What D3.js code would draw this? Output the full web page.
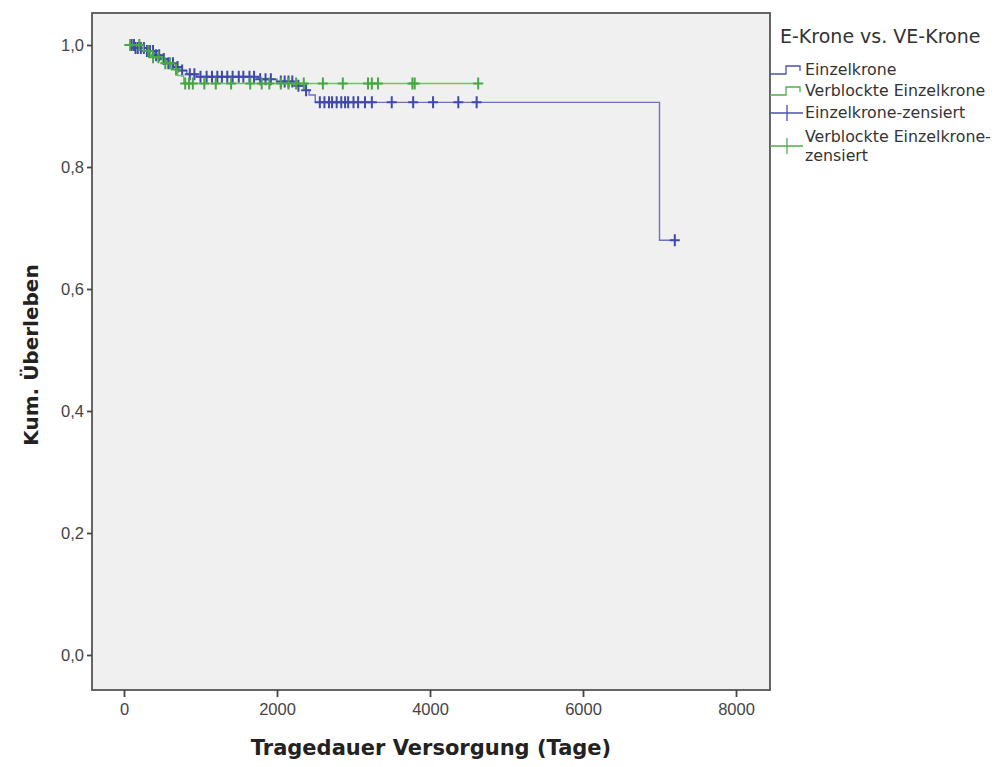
<!DOCTYPE html>
<html>
<head>
<meta charset="utf-8">
<script src="https://cdn.jsdelivr.net/npm/d3@7"></script>
<style>
  body { margin: 0; background: #fff; }
  svg { display: block; }
</style>
</head>
<body>
<div id="chart"></div>
<script>
// Kaplan-Meier steps: [Tage, kum. Ueberleben]
var einzelSteps = [
  [0, 1.0], [150, 0.995], [300, 0.99], [400, 0.983], [480, 0.977], [560, 0.97],
  [650, 0.964], [720, 0.958], [820, 0.952], [950, 0.948], [1750, 0.944],
  [2000, 0.94], [2250, 0.933], [2350, 0.926], [2420, 0.918], [2500, 0.906],
  [7000, 0.68]
];
var einzelEnd = 7200;
var einzelCensored = [
  100, 130, 150, 180, 220, 260, 300, 340, 380, 420, 460, 520, 580, 640, 700, 760,
  860, 920, 1000, 1080, 1150, 1220, 1280, 1350, 1420, 1500, 1560, 1640, 1700,
  1780, 1850, 1920, 2050, 2100, 2150, 2200, 2280, 2380, 2560, 2620, 2680, 2720,
  2780, 2840, 2890, 2930, 3000, 3060, 3150, 3240, 3500, 3780, 4040, 4370, 4610,
  7200
];

var verblocktSteps = [
  [0, 1.0], [250, 0.99], [350, 0.98], [500, 0.97], [620, 0.96], [700, 0.95],
  [780, 0.937]
];
var verblocktEnd = 4630;
var verblocktCensored = [
  80, 200, 320, 380, 450, 540, 600, 680, 800, 850, 900, 1050, 1200, 1400, 1650,
  1800, 1900, 2050, 2150, 2250, 2350, 2600, 2860, 3190, 3240, 3320, 3770, 3800,
  4630
];

var xTicks = [0, 2000, 4000, 6000, 8000];
var yTicks = [0, 0.2, 0.4, 0.6, 0.8, 1.0];

var legendTitle = 'E-Krone vs. VE-Krone';
var legendItems = [
  { lines: ['Einzelkrone'], colour: '#4a52b4', type: 'step' },
  { lines: ['Verblockte Einzelkrone'], colour: '#4fb04a', type: 'step' },
  { lines: ['Einzelkrone-zensiert'], colour: '#4a52b4', type: 'cens' },
  { lines: ['Verblockte Einzelkrone-', 'zensiert'], colour: '#4fb04a', type: 'cens' }
];

var width = 997, height = 767;
var frame = { left: 92, top: 13, right: 770, bottom: 690 };

var svg = d3.select('#chart').append('svg')
  .attr('width', width)
  .attr('height', height);

var x = d3.scaleLinear().domain([0, 8000]).range([124, 736]);
var y = d3.scaleLinear().domain([0, 1]).range([655, 45]);

svg.append('rect')
  .attr('x', frame.left)
  .attr('y', frame.top)
  .attr('width', frame.right - frame.left)
  .attr('height', frame.bottom - frame.top)
  .attr('fill', '#f0f0f0')
  .attr('stroke', '#555')
  .attr('stroke-width', 1.8);

var comma = function(d) { return d3.format('.1f')(d).replace('.', ','); };

var yAxis = svg.append('g')
  .attr('transform', 'translate(' + frame.left + ',0)')
  .call(d3.axisLeft(y).tickValues(yTicks).tickSize(5).tickPadding(3).tickFormat(comma));

var xAxis = svg.append('g')
  .attr('transform', 'translate(0,' + frame.bottom + ')')
  .call(d3.axisBottom(x).tickValues(xTicks).tickSize(7).tickPadding(6).tickFormat(d3.format('d')));

[yAxis, xAxis].forEach(function(ax) {
  ax.select('.domain').remove();
  ax.selectAll('line').attr('stroke', '#444').attr('stroke-width', 1.8);
  ax.selectAll('text')
    .attr('fill', '#444')
    .style('font-family', '"Liberation Sans", Arial, sans-serif')
    .style('font-size', '16.5px');
});

svg.append('text')
  .attr('x', 431)
  .attr('y', 755)
  .attr('text-anchor', 'middle')
  .style('font-family', '"DejaVu Sans", Verdana, sans-serif')
  .style('font-weight', 'bold')
  .style('font-size', '21px')
  .attr('fill', '#222')
  .text('Tragedauer Versorgung (Tage)');

svg.append('text')
  .attr('transform', 'translate(38,355) rotate(-90)')
  .attr('text-anchor', 'middle')
  .style('font-family', '"DejaVu Sans", Verdana, sans-serif')
  .style('font-weight', 'bold')
  .style('font-size', '20px')
  .attr('fill', '#222')
  .text('Kum. Überleben');

function survAt(steps, t) {
  var s = steps[0][1];
  for (var i = 0; i < steps.length; i++) {
    if (steps[i][0] <= t) s = steps[i][1];
  }
  return s;
}

var line = d3.line()
  .x(function(d) { return x(d[0]); })
  .y(function(d) { return y(d[1]); })
  .curve(d3.curveStepAfter);

function drawGroup(steps, end, censored, lineColour, markColour) {
  var pts = steps.slice();
  pts.push([end, survAt(steps, end)]);

  svg.append('path')
    .attr('d', line(pts))
    .attr('fill', 'none')
    .attr('stroke', lineColour)
    .attr('stroke-width', 1.4);

  var marks = svg.append('g').selectAll('g')
    .data(censored)
    .enter().append('g')
    .attr('transform', function(d) {
      return 'translate(' + x(d) + ',' + y(survAt(steps, d)) + ')';
    });
  marks.append('path')
    .attr('d', 'M0,-6V6M-5,0H5')
    .attr('stroke', markColour)
    .attr('stroke-width', 2);
}

drawGroup(einzelSteps, einzelEnd, einzelCensored, '#6b72c4', '#3f48ad');
drawGroup(verblocktSteps, verblocktEnd, verblocktCensored, '#6cc466', '#45a842');

// Legende
var legend = svg.append('g');
legend.append('text')
  .attr('x', 780)
  .attr('y', 43)
  .style('font-family', '"DejaVu Sans", Verdana, sans-serif')
  .style('font-size', '19px')
  .attr('fill', '#333')
  .text(legendTitle);

var rowY = [70, 91, 113, 137];
legendItems.forEach(function(item, i) {
  var cy = rowY[i];
  if (item.type === 'step') {
    legend.append('path')
      .attr('d', 'M770,' + (cy + 4) + 'H786V' + (cy - 4) + 'H800V' + (cy + 1))
      .attr('fill', 'none')
      .attr('stroke', item.colour)
      .attr('stroke-width', 1.3);
  } else {
    var sy = item.lines.length > 1 ? cy + 9 : cy;
    legend.append('path')
      .attr('d', 'M770,' + sy + 'H803M787,' + (sy - 8) + 'V' + (sy + 8))
      .attr('fill', 'none')
      .attr('stroke', item.colour)
      .attr('stroke-width', 1.3);
  }
  item.lines.forEach(function(t, j) {
    legend.append('text')
      .attr('x', 805)
      .attr('y', cy + 5 + j * 19)
      .style('font-family', '"DejaVu Sans", Verdana, sans-serif')
      .style('font-size', '15.8px')
      .attr('fill', '#333')
      .text(t);
  });
});
</script>
</body>
</html>
